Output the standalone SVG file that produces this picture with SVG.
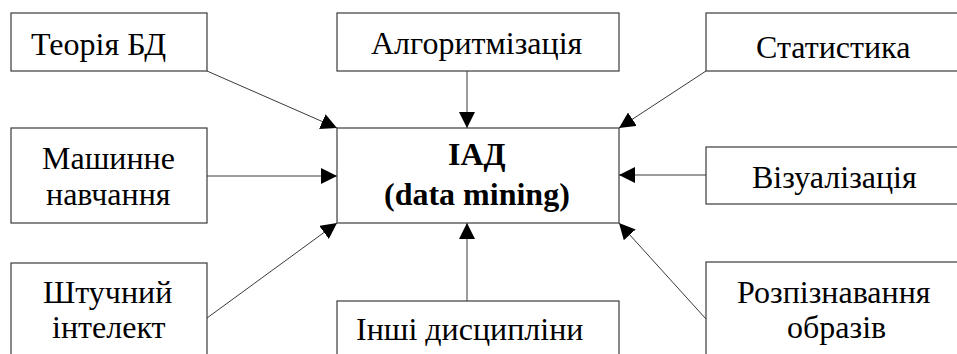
<svg xmlns="http://www.w3.org/2000/svg" width="957" height="354" viewBox="0 0 957 354">
<defs>
<marker id="ah" markerUnits="userSpaceOnUse" viewBox="0 0 16 16" refX="16" refY="8" markerWidth="16" markerHeight="16" orient="auto">
<path d="M0,0 L16,8 L0,16 z" fill="#000"/>
</marker>
</defs>
<rect width="957" height="354" fill="#fff"/>
<g id="connectors" stroke="#3a3a3a" stroke-width="1" fill="none" marker-end="url(#ah)">
<line x1="207" y1="71" x2="337" y2="128"/>
<line x1="467" y1="71" x2="467" y2="128"/>
<line x1="706" y1="71" x2="619" y2="128"/>
<line x1="207" y1="176" x2="337" y2="176"/>
<line x1="207" y1="318" x2="337" y2="223"/>
<line x1="467" y1="301" x2="467" y2="223"/>
<line x1="706" y1="175" x2="619" y2="175"/>
<line x1="706" y1="319" x2="619" y2="223"/>
</g>
<g id="n-teoriya">
<rect x="11" y="13" width="196" height="58" fill="#fff" stroke="#3a3a3a" stroke-width="1.2"/>
<text x="31" y="55" font-family="Liberation Serif" font-size="32">Теорія БД</text>
</g>
<g id="n-alg">
<rect x="337" y="13" width="282" height="58" fill="#fff" stroke="#3a3a3a" stroke-width="1.2"/>
<text x="371" y="54" font-family="Liberation Serif" font-size="32">Алгоритмізація</text>
</g>
<g id="n-stat">
<rect x="706" y="13" width="262" height="58" fill="#fff" stroke="#3a3a3a" stroke-width="1.2"/>
<text x="756" y="58" font-family="Liberation Serif" font-size="32">Статистика</text>
</g>
<g id="n-mash">
<rect x="11" y="128" width="196" height="95" fill="#fff" stroke="#3a3a3a" stroke-width="1.2"/>
<text x="42" y="169" font-family="Liberation Serif" font-size="32">Машинне</text>
<text x="46" y="205" font-family="Liberation Serif" font-size="32">навчання</text>
</g>
<g id="n-iad">
<rect x="337" y="128" width="282" height="95" fill="#fff" stroke="#3a3a3a" stroke-width="1.2"/>
<text x="448" y="165" font-family="Liberation Serif" font-size="32" font-weight="bold">ІАД</text>
<text x="384" y="205" font-family="Liberation Serif" font-size="32" font-weight="bold">(data mining)</text>
</g>
<g id="n-viz">
<rect x="706" y="147" width="262" height="57" fill="#fff" stroke="#3a3a3a" stroke-width="1.2"/>
<text x="752" y="188" font-family="Liberation Serif" font-size="32">Візуалізація</text>
</g>
<g id="n-shtuch">
<rect x="11" y="263" width="196" height="110" fill="#fff" stroke="#3a3a3a" stroke-width="1.2"/>
<text x="43" y="303" font-family="Liberation Serif" font-size="32">Штучний</text>
<text x="52" y="338" font-family="Liberation Serif" font-size="32">інтелект</text>
</g>
<g id="n-inshi">
<rect x="337" y="301" width="282" height="70" fill="#fff" stroke="#3a3a3a" stroke-width="1.2"/>
<text x="356" y="340" font-family="Liberation Serif" font-size="32">Інші дисципліни</text>
</g>
<g id="n-rozp">
<rect x="706" y="262" width="262" height="110" fill="#fff" stroke="#3a3a3a" stroke-width="1.2"/>
<text x="737" y="303" font-family="Liberation Serif" font-size="32">Розпізнавання</text>
<text x="787" y="338" font-family="Liberation Serif" font-size="32">образів</text>
</g>
</svg>
